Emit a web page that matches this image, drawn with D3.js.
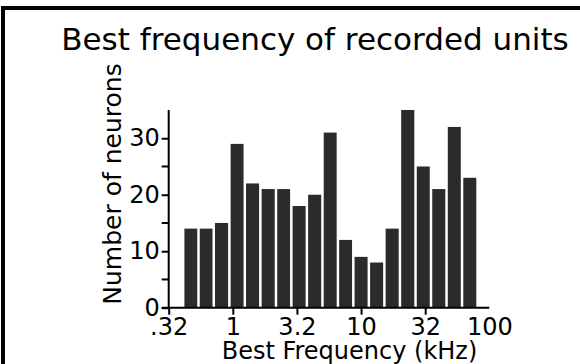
<!DOCTYPE html>
<html>
<head>
<meta charset="utf-8">
<script src="https://d3js.org/d3.v7.min.js"></script>
<style>
  body { margin: 0; background: #fff; }
  text { font-family: "DejaVu Sans", sans-serif; fill: #000; }
</style>
</head>
<body>
<div class="chart"></div>
<script>
// Bin edges (kHz) and neuron counts per bin
var binEdges = [0.41, 0.54, 0.71, 0.94, 1.24, 1.64, 2.17, 2.86, 3.78, 5.0,
                6.6, 8.7, 11.5, 15.2, 20.1, 26.6, 35.1, 46.4, 61.3, 81.0];
var counts = [14, 14, 15, 29, 22, 21, 21, 18, 20, 31, 12, 9, 8, 14, 35, 25, 21, 32, 23];

var xTickValues = [0.3162, 1, 3.162, 10, 31.62, 100];
var xTickLabels = [".32", "1", "3.2", "10", "32", "100"];
var yMajorTicks = [0, 10, 20, 30];
var yMinorTicks = [5, 15, 25];

var svgWidth = 580;
var svgHeight = 364;

var svg = d3.select(".chart")
    .append("svg")
    .attr("width", svgWidth)
    .attr("height", svgHeight);

// outer frame (only left and top edges show)
svg.append("rect")
    .attr("x", 3)
    .attr("y", 8)
    .attr("width", 800)
    .attr("height", 600)
    .style("fill", "none")
    .style("stroke", "#000")
    .style("stroke-width", 4);

var xScale = d3.scaleLog()
    .domain([Math.pow(10, -0.5), 100])
    .range([168.7, 489.3]);

var yScale = d3.scaleLinear()
    .domain([0, 35])
    .range([307.7, 110]);

var bins = counts.map(function(c, i) {
    return {lo: binEdges[i], hi: binEdges[i + 1], n: c};
});

// bars
svg.selectAll(".bar")
    .data(bins)
    .enter()
    .append("rect")
    .attr("class", "bar")
    .attr("x", function(d) { return xScale(d.lo) + 1.25; })
    .attr("width", function(d) { return xScale(d.hi) - xScale(d.lo) - 2.5; })
    .attr("y", function(d) { return yScale(d.n); })
    .attr("height", function(d) { return yScale(0) - yScale(d.n); })
    .style("fill", "#2b2b2b");

// x axis
var bottomAxis = d3.axisBottom(xScale)
    .tickValues(xTickValues)
    .tickFormat(function(d, i) { return xTickLabels[i]; })
    .tickSize(7)
    .tickPadding(3);

var xAxis = svg.append("g")
    .attr("transform", "translate(0," + yScale(0) + ")")
    .call(bottomAxis);
xAxis.select(".domain").remove();
xAxis.selectAll(".tick line").style("stroke-width", 2);
xAxis.selectAll(".tick").filter(function(d) { return d === 100; })
    .select("line").remove();
xAxis.selectAll("text").style("font-size", "24px").attr("dy", "0.72em");

svg.append("line")
    .attr("x1", 161.7)
    .attr("x2", xScale(100))
    .attr("y1", yScale(0))
    .attr("y2", yScale(0))
    .style("stroke", "#000")
    .style("stroke-width", 2);

// y axis
var leftAxis = d3.axisLeft(yScale)
    .tickValues(yMajorTicks)
    .tickSize(7)
    .tickPadding(2);

var yAxis = svg.append("g")
    .attr("transform", "translate(" + xScale(Math.pow(10, -0.5)) + ",0)")
    .call(leftAxis);
yAxis.select(".domain").remove();
yAxis.selectAll(".tick line").style("stroke-width", 2);
yAxis.selectAll("text").style("font-size", "24px");

svg.selectAll(".minor")
    .data(yMinorTicks)
    .enter()
    .append("line")
    .attr("class", "minor")
    .attr("x1", xScale(Math.pow(10, -0.5)) - 7)
    .attr("x2", xScale(Math.pow(10, -0.5)))
    .attr("y1", function(d) { return yScale(d); })
    .attr("y2", function(d) { return yScale(d); })
    .style("stroke", "#000")
    .style("stroke-width", 2);

svg.append("line")
    .attr("x1", xScale(Math.pow(10, -0.5)))
    .attr("x2", xScale(Math.pow(10, -0.5)))
    .attr("y1", yScale(35))
    .attr("y2", yScale(0))
    .style("stroke", "#000")
    .style("stroke-width", 2);

// labels
svg.append("text")
    .attr("x", 315)
    .attr("y", 50)
    .attr("text-anchor", "middle")
    .style("font-size", "31px")
    .text("Best frequency of recorded units");

svg.append("text")
    .attr("x", 349.5)
    .attr("y", 359)
    .attr("text-anchor", "middle")
    .style("font-size", "24px")
    .text("Best Frequency (kHz)");

svg.append("text")
    .attr("transform", "translate(121,184) rotate(-90)")
    .attr("text-anchor", "middle")
    .style("font-size", "25px")
    .text("Number of neurons");
</script>
</body>
</html>
